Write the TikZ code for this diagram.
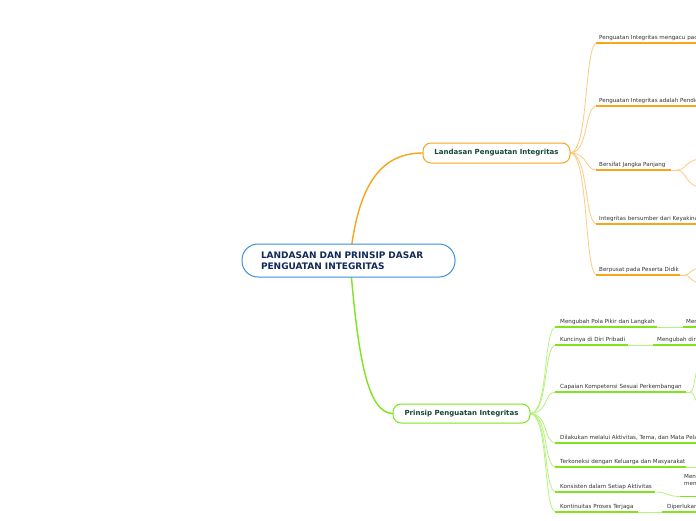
\documentclass[tikz,border=0pt]{standalone}
\usepackage{fontspec}
\setmainfont{DejaVu Sans}
\definecolor{orM}{HTML}{F9A51A}
\definecolor{orL}{HTML}{FDCB80}
\definecolor{grM}{HTML}{80E41C}
\definecolor{grL}{HTML}{B8F27E}
\definecolor{rootblue}{HTML}{3C8FD8}
\definecolor{rootnavy}{HTML}{13295A}
\definecolor{subtext}{HTML}{17463A}
\definecolor{leafgray}{HTML}{333333}
\tikzset{
  rootbox/.style={draw=rootblue, line width=1pt, fill=white, rounded corners=16pt,
    minimum width=213pt, minimum height=33pt, text width=175pt, align=left,
    inner sep=0pt, font=\fontsize{9}{11}\selectfont\bfseries, text=rootnavy},
  subbox/.style={line width=1pt, fill=white, rounded corners=8pt, inner sep=0pt,
    font=\fontsize{7}{8}\selectfont\bfseries, text=subtext},
  leaf/.style={anchor=base west, inner sep=0pt, font=\fontsize{5.6}{6.6}\selectfont, text=leafgray, align=left},
  oMain/.style={draw=orM, line width=1.4pt},
  oThick/.style={draw=orM, line width=1.3pt},
  oThin/.style={draw=orL, line width=0.8pt},
  gMain/.style={draw=grM, line width=1.4pt},
  gThick/.style={draw=grM, line width=1.3pt},
  gThin/.style={draw=grL, line width=0.8pt},
}
\begin{document}
\begin{tikzpicture}[x=1pt,y=-1pt]
\clip (0,0) rectangle (696,520);
\fill[white] (0,0) rectangle (696,520);

\coordinate (rc) at (350,260);
\coordinate (Lw) at (423,153);
\coordinate (Le) at (570,153);
\coordinate (Pw) at (393,413.5);
\coordinate (Pe) at (530,413.5);

% root connectors
\draw[oMain] (rc) .. controls (358,178) and (385,153) .. (Lw);
\draw[gMain] (rc) .. controls (358,360) and (368,413.5) .. (Pw);

% ---- Landasan leaves
\foreach \y in {43,106,170,224,275}{
  \draw[oThin] (Le) .. controls (589,153) and (584,\y) .. (597,\y);
}
\coordinate (a1s) at (596,43);   \coordinate (a1e) at (700,43);
\coordinate (a2s) at (596,106);  \coordinate (a2e) at (700,106);
\coordinate (a3s) at (596,170);  \coordinate (a3m) at (671,170); \coordinate (a3j) at (677,170);
\coordinate (a3u) at (700,159);  \coordinate (a3d) at (700,187);
\coordinate (a4s) at (596,224);  \coordinate (a4e) at (700,224);
\coordinate (a5s) at (596,275);  \coordinate (a5m) at (680,275); \coordinate (a5j) at (685,275);
\coordinate (a5u) at (700,268);  \coordinate (a5d) at (700,283);

\node[leaf] (a1) at (599,39.5) {Penguatan Integritas mengacu pad};
\node[leaf] (a2) at (599,102.5) {Penguatan Integritas adalah Pendid};
\node[leaf] (a3) at (599,166.5) {Bersifat Jangka Panjang};
\node[leaf] (a4) at (599,220.5) {Integritas bersumber dari Keyakina};
\node[leaf] (a5) at (599,271.5) {Berpusat pada Peserta Didik};

\draw[oThick] (a1s) -- (a1e);
\draw[oThick] (a2s) -- (a2e);
\draw[oThick] (a3s) -- (a3m);
\draw[oThin] (a3m) -- (a3j);
\draw[oThin] (a3j) .. controls (686,170) and (686,160) .. (a3u);
\draw[oThin] (a3j) .. controls (686,170) and (686,186) .. (a3d);
\draw[oThick] (a4s) -- (a4e);
\draw[oThick] (a5s) -- (a5m);
\draw[oThin] (a5m) -- (a5j);
\draw[oThin] (a5j) .. controls (690,275) and (690,269) .. (a5u);
\draw[oThin] (a5j) .. controls (690,275) and (690,282) .. (a5d);

% ---- Prinsip leaves
\foreach \y in {327,345,392,443,467,492,512}{
  \draw[gThin] (Pe) .. controls (549,413.5) and (543,\y) .. (556,\y);
}
\coordinate (b1s) at (555,327); \coordinate (b1m) at (657,327); \coordinate (b1n) at (683,327); \coordinate (b1e) at (700,327);
\coordinate (b2s) at (555,345); \coordinate (b2m) at (628,345); \coordinate (b2n) at (653,345); \coordinate (b2e) at (700,345);
\coordinate (b3s) at (555,392); \coordinate (b3m) at (686,392); \coordinate (b3j) at (690,392);
\coordinate (b3u) at (700,362); \coordinate (b3d) at (700,404);
\coordinate (b4s) at (555,443); \coordinate (b4e) at (700,443);
\coordinate (b5s) at (555,467); \coordinate (b5m) at (686,467); \coordinate (b5e) at (700,467);
\coordinate (b6s) at (555,492); \coordinate (b6m) at (655,492); \coordinate (b6n) at (680,496.5); \coordinate (b6e) at (700,496.5);
\coordinate (b7s) at (555,512); \coordinate (b7m) at (638,512); \coordinate (b7n) at (662,512); \coordinate (b7e) at (700,512);

\node[leaf] (b1) at (560,323.5) {Mengubah Pola Pikir dan Langkah};
\node[leaf] (b1x) at (686,323.5) {Men};
\node[leaf] (b2) at (560,341.5) {Kuncinya di Diri Pribadi};
\node[leaf] (b2x) at (657,341.5) {Mengubah diri};
\node[leaf] (b3) at (560,388.5) {Capaian Kompetensi Sesuai Perkembangan};
\node[leaf] (b4) at (560,439.5) {Dilakukan melalui Aktivitas, Tema, dan Mata Pela};
\node[leaf] (b5) at (560,463.5) {Terkoneksi dengan Keluarga dan Masyarakat};
\node[leaf] (b6) at (560,488.5) {Konsisten dalam Setiap Aktivitas};
\node[leaf] (b6x) at (684,485) {Men\\men};
\node[leaf] (b7) at (560,508.5) {Kontinuitas Proses Terjaga};
\node[leaf] (b7x) at (667,508.5) {Diperlukan};

\draw[gThick] (b1s) -- (b1m); \draw[gThin] (b1m) -- (b1n); \draw[gThick] (b1n) -- (b1e);
\draw[gThick] (b2s) -- (b2m); \draw[gThin] (b2m) -- (b2n); \draw[gThick] (b2n) -- (b2e);
\draw[gThick] (b3s) -- (b3m); \draw[gThin] (b3m) -- (b3j);
\draw[gThin] (b3j) .. controls (695,392) and (694,372) .. (b3u);
\draw[gThin] (b3j) .. controls (695,392) and (694,402) .. (b3d);
\draw[gThick] (b4s) -- (b4e);
\draw[gThick] (b5s) -- (b5m); \draw[gThin] (b5m) -- (b5e);
\draw[gThick] (b6s) -- (b6m);
\draw[gThin] (b6m) .. controls (668,492) and (667,496.5) .. (b6n);
\draw[gThick] (b6n) -- (b6e);
\draw[gThick] (b7s) -- (b7m); \draw[gThin] (b7m) -- (b7n); \draw[gThick] (b7n) -- (b7e);

% ---- main nodes on top
\node[rootbox] (root) at (348.5,260.5) {LANDASAN DAN PRINSIP DASAR\\PENGUATAN INTEGRITAS};
\node[subbox, draw=orM, minimum width=147pt, minimum height=20pt] (land) at (496.5,153) {Landasan Penguatan Integritas};
\node[subbox, draw=grM, minimum width=137pt, minimum height=19pt] (prin) at (461.5,413.5) {Prinsip Penguatan Integritas};
\end{tikzpicture}
\end{document}
